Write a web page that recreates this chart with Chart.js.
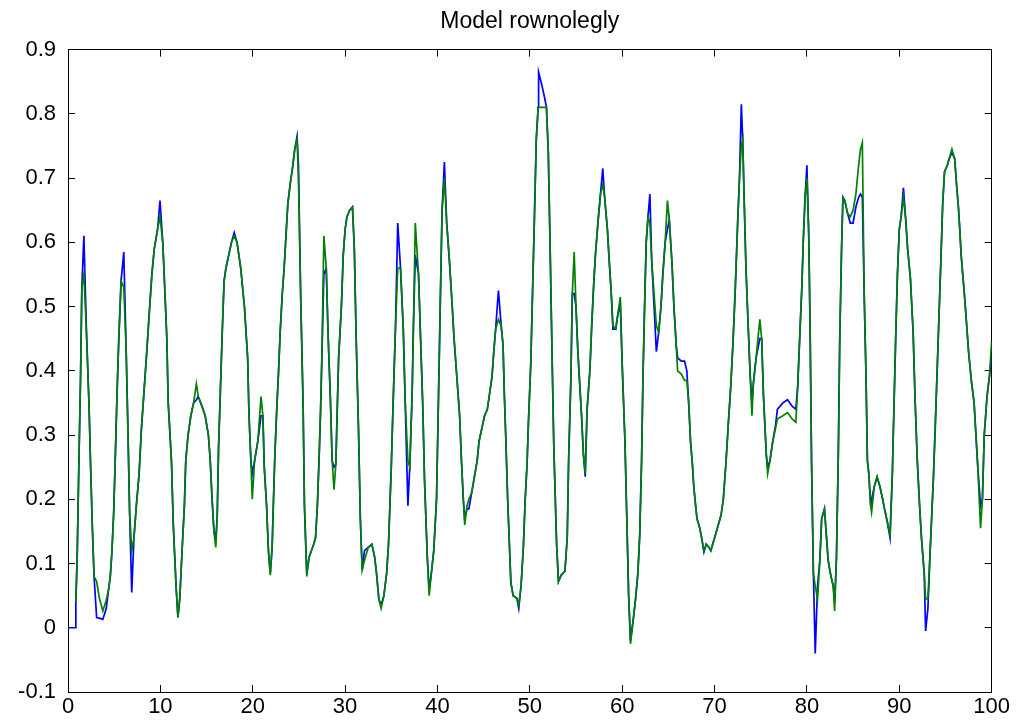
<!DOCTYPE html>
<html lang="en">
<head>
    <meta charset="UTF-8">
    <title>Model rownolegly</title>
    <script src="https://cdn.jsdelivr.net/npm/chart.js"></script>
    <style>
        body { margin: 0; background: #fff; }
        #wrap { width: 1019px; height: 728px; }
    </style>
</head>
<body>

<div id="wrap">
    <canvas id="modelChart" width="1019" height="728"></canvas>
</div>

<script>
    // x positions (shared by both lines)
    const xValues = [
        0, 0.8, 0.85, 1.0, 1.17, 1.36, 1.5, 1.72, 2.0, 2.27, 2.45, 2.64, 2.82, 3.1, 3.4, 3.77, 4.14, 4.4, 4.58, 4.76,
        4.95, 5.13, 5.3, 5.5, 5.75, 6.04, 6.3, 6.5, 6.67, 6.9, 7.14, 7.4, 7.7, 7.95, 8.24, 8.53, 8.8, 9.08, 9.34, 9.7, 9.96,
        10.26, 10.5, 10.7, 10.85, 11.2, 11.4, 11.7, 11.9, 12.1, 12.35, 12.6, 12.75, 13.0, 13.3, 13.6, 13.9, 14.1, 14.5, 14.85, 15.2,
        15.4, 15.6, 15.8, 16.0, 16.15, 16.3, 16.5, 16.7, 16.9, 17.1, 17.4, 17.7, 18.0, 18.3, 18.7, 19.1, 19.45, 19.6, 19.8, 19.95,
        20.2, 20.55, 20.9, 21.1, 21.25, 21.5, 21.7, 21.9, 22.1, 22.25, 22.4, 22.6, 22.8, 22.97, 23.2, 23.4, 23.6, 23.8, 24.05, 24.3,
        24.55, 24.8, 24.95, 25.2, 25.45, 25.6, 25.85, 26.1, 26.35, 26.6, 26.8, 27.0, 27.2, 27.35, 27.5, 27.7, 27.96, 28.15, 28.4, 28.6,
        28.8, 29.0, 29.15, 29.3, 29.6, 29.8,
        30.0, 30.2, 30.5, 30.8, 31.0, 31.2, 31.45, 31.65, 31.85, 32.1, 32.5, 32.9, 33.2, 33.4, 33.65, 33.9, 34.2, 34.5, 34.7, 35.0,
        35.2, 35.45, 35.7, 36.0, 36.3, 36.5, 36.8, 37.0, 37.25, 37.4, 37.6, 37.95, 38.15, 38.4, 38.6, 38.9, 39.1, 39.3, 39.6, 39.9,
        40.1, 40.3, 40.5, 40.75, 41.0, 41.3, 41.6, 41.8, 42.1, 42.4, 42.6, 42.8, 42.95, 43.2, 43.4, 43.7, 44.0, 44.3, 44.5, 44.8,
        45.1, 45.4, 45.6, 45.9, 46.1, 46.3, 46.6, 46.9, 47.1, 47.25, 47.4, 47.6, 47.8, 47.95, 48.2, 48.6, 48.8, 49.05, 49.3, 49.5,
        49.7, 49.85,
        50.1, 50.3, 50.5, 50.7, 50.9, 50.95, 51.3, 51.6, 51.8, 52.0, 52.2, 52.4, 52.6, 52.9, 53.1, 53.4, 53.8, 54.05, 54.2, 54.45,
        54.6, 54.8, 55.0, 55.2, 55.4, 55.6, 55.8, 56.0, 56.2, 56.5, 56.7, 56.9, 57.1, 57.4, 57.65, 57.9, 58.1, 58.4, 58.6, 58.8,
        59.0, 59.3, 59.55, 59.8,
        60.0, 60.3, 60.5, 60.7, 60.9, 61.2, 61.45, 61.7, 61.9, 62.1, 62.25, 62.4, 62.6, 62.8, 63.0, 63.2, 63.45, 63.7, 63.95, 64.2,
        64.4, 64.65, 64.9, 65.1, 65.4, 65.6, 65.85, 66.0, 66.4, 66.75, 67.0, 67.2, 67.4, 67.6, 67.75, 67.95, 68.1, 68.4, 68.6, 68.85,
        69.1, 69.4, 69.6, 69.9,
        70.2, 70.4, 70.7, 70.95, 71.25, 71.5, 71.75, 72.0, 72.25, 72.5, 72.7, 72.9, 73.05, 73.2, 73.4, 73.6, 73.85, 74.05, 74.2, 74.5,
        74.9, 75.1, 75.3, 75.6, 75.75, 76.0, 76.3, 76.6, 76.8, 77.4, 77.9, 78.4, 78.8, 79.0, 79.2, 79.45, 79.6, 79.8,
        80.0, 80.2, 80.35, 80.5, 80.7, 80.9, 81.15, 81.4, 81.6, 81.9, 82.1, 82.3, 82.6, 82.85, 83.0, 83.2, 83.4, 83.55, 83.75, 83.9,
        84.1, 84.4, 84.7, 85.0, 85.3, 85.6, 85.8, 86.0, 86.2, 86.4, 86.55, 86.7, 86.9, 87.0, 87.3, 87.6, 87.9, 88.2, 88.4, 88.7,
        89.0, 89.25, 89.4, 89.6, 89.8,
        90.0, 90.2, 90.45, 90.7, 90.9, 91.2, 91.5, 91.7, 91.95, 92.2, 92.4, 92.7, 92.85, 93.1, 93.3, 93.5, 93.7, 93.9, 94.1, 94.3,
        94.5, 94.7, 94.9, 95.2, 95.4, 95.7, 96.0, 96.2, 96.4, 96.55, 96.7, 96.9, 97.1, 97.3, 97.5, 97.8, 98.1, 98.3, 98.5, 98.8,
        99.0, 99.2, 99.5, 99.75, 100.0
    ];

    // blue line
    const blueValues = [
        0, 0, 0.04, 0.115, 0.25, 0.39, 0.53, 0.61, 0.46, 0.35, 0.25, 0.155, 0.08, 0.016, 0.015, 0.013, 0.03, 0.06, 0.08, 0.12,
        0.18, 0.27, 0.36, 0.45, 0.54, 0.585, 0.43, 0.3, 0.18, 0.055, 0.14, 0.19, 0.24, 0.31, 0.37, 0.43, 0.49, 0.55, 0.59, 0.62, 0.665,
        0.6, 0.52, 0.45, 0.35, 0.26, 0.16, 0.065, 0.016, 0.045, 0.12, 0.19, 0.26, 0.3, 0.33, 0.35, 0.355, 0.36, 0.345, 0.33, 0.3,
        0.26, 0.2, 0.15, 0.14, 0.17, 0.28, 0.37, 0.46, 0.54, 0.56, 0.58, 0.6, 0.615, 0.6, 0.56, 0.5, 0.42, 0.33, 0.26, 0.24,
        0.26, 0.29, 0.33, 0.33, 0.25, 0.19, 0.12, 0.085, 0.125, 0.2, 0.27, 0.34, 0.4, 0.46, 0.52, 0.56, 0.61, 0.66, 0.69, 0.715,
        0.745, 0.765, 0.72, 0.51, 0.35, 0.19, 0.085, 0.11, 0.12, 0.13, 0.14, 0.19, 0.27, 0.34, 0.43, 0.55, 0.56, 0.46, 0.36, 0.26,
        0.25, 0.255, 0.34, 0.42, 0.5, 0.58,
        0.62, 0.64, 0.65, 0.655, 0.59, 0.45, 0.31, 0.17, 0.09, 0.12, 0.125, 0.13, 0.11, 0.085, 0.045, 0.035, 0.05, 0.085, 0.13, 0.25,
        0.35, 0.465, 0.63, 0.56, 0.465, 0.355, 0.19, 0.25, 0.36, 0.47, 0.58, 0.55, 0.46, 0.35, 0.23, 0.11, 0.06, 0.08, 0.12, 0.2,
        0.35, 0.5, 0.65, 0.725, 0.63, 0.57, 0.5, 0.45, 0.39, 0.33, 0.26, 0.2, 0.17, 0.185, 0.185, 0.21, 0.235, 0.26, 0.29, 0.31,
        0.33, 0.34, 0.36, 0.39, 0.43, 0.465, 0.525, 0.47, 0.44, 0.36, 0.295, 0.2, 0.125, 0.07, 0.05, 0.046, 0.03, 0.065, 0.125, 0.2,
        0.255, 0.32,
        0.41, 0.525, 0.64, 0.76, 0.81, 0.865, 0.845, 0.825, 0.81, 0.74, 0.59, 0.43, 0.28, 0.13, 0.072, 0.082, 0.088, 0.14, 0.26, 0.39,
        0.52, 0.52, 0.5, 0.43, 0.38, 0.33, 0.27, 0.235, 0.34, 0.4, 0.47, 0.53, 0.58, 0.635, 0.675, 0.715, 0.67, 0.62, 0.57, 0.525,
        0.465, 0.465, 0.49, 0.5,
        0.41, 0.29, 0.17, 0.05, -0.02, 0.013, 0.045, 0.085, 0.145, 0.26, 0.39, 0.485, 0.6, 0.64, 0.675, 0.57, 0.5, 0.43, 0.46, 0.5,
        0.55, 0.6, 0.62, 0.635, 0.565, 0.5, 0.44, 0.42, 0.415, 0.415, 0.4, 0.35, 0.29, 0.255, 0.22, 0.19, 0.17, 0.155, 0.14, 0.118,
        0.13, 0.125, 0.12, 0.135,
        0.15, 0.16, 0.175, 0.2, 0.26, 0.32, 0.375, 0.445, 0.53, 0.63, 0.7, 0.815, 0.76, 0.67, 0.56, 0.485, 0.395, 0.35, 0.38, 0.42,
        0.45, 0.45, 0.36, 0.27, 0.25, 0.26, 0.29, 0.315, 0.34, 0.35, 0.355, 0.345, 0.34, 0.375, 0.445, 0.53, 0.6, 0.67,
        0.72, 0.61, 0.46, 0.26, 0.085, -0.04, 0.065, 0.105, 0.17, 0.185, 0.145, 0.105, 0.08, 0.065, 0.04, 0.11, 0.27, 0.445, 0.59, 0.67,
        0.665, 0.645, 0.63, 0.63, 0.655, 0.67, 0.675, 0.67, 0.52, 0.39, 0.26, 0.24, 0.19, 0.2, 0.22, 0.235, 0.22, 0.2, 0.185, 0.165,
        0.14, 0.24, 0.33, 0.445, 0.55,
        0.62, 0.64, 0.685, 0.635, 0.59, 0.545, 0.46, 0.36, 0.26, 0.19, 0.14, 0.085, -0.005, 0.03, 0.105, 0.17, 0.235, 0.315, 0.4, 0.485,
        0.57, 0.66, 0.71, 0.72, 0.73, 0.74, 0.73, 0.69, 0.655, 0.62, 0.58, 0.545, 0.51, 0.47, 0.43, 0.385, 0.35, 0.3, 0.25, 0.19,
        0.2, 0.3, 0.36, 0.39, 0.42
    ];

    // green line (starts a little after x = 0)
    const greenValues = [
        null, null, 0.04, 0.115, 0.25, 0.39, 0.53, 0.55, 0.46, 0.35, 0.25, 0.155, 0.08, 0.072, 0.046, 0.026, 0.043, 0.06, 0.08, 0.12,
        0.18, 0.27, 0.36, 0.45, 0.54, 0.53, 0.43, 0.3, 0.18, 0.12, 0.14, 0.19, 0.24, 0.31, 0.37, 0.43, 0.49, 0.55, 0.59, 0.62, 0.64,
        0.6, 0.52, 0.45, 0.35, 0.26, 0.16, 0.065, 0.016, 0.045, 0.12, 0.19, 0.26, 0.3, 0.33, 0.35, 0.38, 0.36, 0.345, 0.33, 0.3,
        0.26, 0.2, 0.15, 0.125, 0.17, 0.28, 0.37, 0.46, 0.54, 0.56, 0.58, 0.6, 0.61, 0.6, 0.56, 0.5, 0.42, 0.33, 0.26, 0.2,
        0.26, 0.29, 0.36, 0.33, 0.25, 0.19, 0.12, 0.082, 0.125, 0.2, 0.27, 0.34, 0.4, 0.46, 0.52, 0.56, 0.61, 0.66, 0.69, 0.715,
        0.745, 0.76, 0.7, 0.51, 0.35, 0.19, 0.08, 0.11, 0.12, 0.13, 0.14, 0.19, 0.27, 0.34, 0.43, 0.61, 0.56, 0.46, 0.36, 0.26,
        0.215, 0.255, 0.34, 0.42, 0.5, 0.58,
        0.62, 0.64, 0.65, 0.655, 0.59, 0.45, 0.31, 0.17, 0.09, 0.105, 0.125, 0.13, 0.11, 0.085, 0.045, 0.03, 0.05, 0.085, 0.13, 0.25,
        0.35, 0.465, 0.56, 0.56, 0.465, 0.355, 0.26, 0.25, 0.36, 0.47, 0.63, 0.55, 0.46, 0.35, 0.23, 0.11, 0.05, 0.08, 0.12, 0.2,
        0.35, 0.5, 0.65, 0.7, 0.63, 0.57, 0.5, 0.45, 0.39, 0.33, 0.26, 0.2, 0.16, 0.19, 0.2, 0.21, 0.235, 0.26, 0.29, 0.31,
        0.33, 0.34, 0.36, 0.39, 0.43, 0.465, 0.48, 0.47, 0.44, 0.36, 0.295, 0.2, 0.125, 0.07, 0.05, 0.046, 0.035, 0.065, 0.125, 0.2,
        0.255, 0.32,
        0.41, 0.525, 0.64, 0.76, 0.81, 0.81, 0.81, 0.81, 0.81, 0.74, 0.59, 0.43, 0.28, 0.13, 0.072, 0.082, 0.088, 0.14, 0.26, 0.39,
        0.52, 0.585, 0.5, 0.43, 0.38, 0.33, 0.27, 0.24, 0.34, 0.4, 0.47, 0.53, 0.58, 0.635, 0.675, 0.69, 0.67, 0.62, 0.57, 0.525,
        0.47, 0.465, 0.49, 0.515,
        0.41, 0.29, 0.17, 0.05, -0.025, 0.013, 0.045, 0.085, 0.145, 0.26, 0.39, 0.485, 0.6, 0.64, 0.63, 0.57, 0.52, 0.47, 0.46, 0.5,
        0.55, 0.6, 0.665, 0.635, 0.565, 0.5, 0.44, 0.4, 0.395, 0.385, 0.385, 0.35, 0.29, 0.255, 0.22, 0.19, 0.17, 0.155, 0.14, 0.12,
        0.13, 0.125, 0.12, 0.135,
        0.15, 0.16, 0.175, 0.2, 0.26, 0.32, 0.375, 0.445, 0.53, 0.63, 0.7, 0.75, 0.76, 0.67, 0.56, 0.485, 0.395, 0.33, 0.38, 0.42,
        0.48, 0.45, 0.36, 0.27, 0.24, 0.26, 0.29, 0.31, 0.325, 0.33, 0.335, 0.325, 0.32, 0.375, 0.445, 0.53, 0.6, 0.67,
        0.7, 0.61, 0.46, 0.26, 0.085, 0.065, 0.045, 0.105, 0.17, 0.185, 0.145, 0.105, 0.08, 0.065, 0.026, 0.11, 0.27, 0.445, 0.59, 0.67,
        0.665, 0.645, 0.64, 0.65, 0.675, 0.72, 0.745, 0.755, 0.52, 0.39, 0.26, 0.24, 0.19, 0.18, 0.22, 0.235, 0.22, 0.2, 0.185, 0.165,
        0.145, 0.24, 0.33, 0.445, 0.55,
        0.62, 0.64, 0.67, 0.635, 0.59, 0.545, 0.46, 0.36, 0.26, 0.19, 0.14, 0.085, 0.045, 0.045, 0.105, 0.17, 0.235, 0.315, 0.4, 0.485,
        0.57, 0.66, 0.71, 0.72, 0.73, 0.745, 0.73, 0.69, 0.655, 0.62, 0.58, 0.545, 0.51, 0.47, 0.43, 0.385, 0.35, 0.3, 0.25, 0.155,
        0.2, 0.3, 0.36, 0.39, 0.445
    ];

    const xTicks = [0, 10, 20, 30, 40, 50, 60, 70, 80, 90, 100];
    const yTicks = [-0.1, 0, 0.1, 0.2, 0.3, 0.4, 0.5, 0.6, 0.7, 0.8, 0.9];

    const labelFont = { family: "'Liberation Sans', Arial, sans-serif", size: 22 };

    // inward tick marks like MATLAB: negative tick length, no grid inside the plot
    const frameGrid = { display: true, drawOnChartArea: false, drawTicks: true, tickLength: -7, color: '#000', lineWidth: 1 };
    const frameBorder = { display: true, color: '#000', width: 1 };

    const ctx = document.getElementById('modelChart').getContext('2d');
    const modelChart = new Chart(ctx, {
        type: 'line',
        data: {
            datasets: [
                {
                    label: 'green',
                    data: xValues.map((x, i) => ({ x: x, y: greenValues[i] })),
                    borderColor: '#008000',
                    borderWidth: 1.7,
                    pointRadius: 0,
                    tension: 0,
                    spanGaps: false,
                    order: 0
                },
                {
                    label: 'blue',
                    data: xValues.map((x, i) => ({ x: x, y: blueValues[i] })),
                    borderColor: '#0000ff',
                    borderWidth: 1.7,
                    pointRadius: 0,
                    tension: 0,
                    order: 1
                }
            ]
        },
        options: {
            responsive: false,
            animation: false,
            layout: { padding: { left: 0, right: 20, top: 0, bottom: 0 } },
            scales: {
                x: {
                    type: 'linear',
                    position: 'bottom',
                    min: 0,
                    max: 100,
                    afterBuildTicks: s => { s.ticks = xTicks.map(v => ({ value: v })); },
                    afterFit: s => { s.height = 36; },
                    grid: frameGrid,
                    border: frameBorder,
                    ticks: {
                        color: '#000',
                        font: labelFont,
                        padding: 9,
                        maxRotation: 0,
                        callback: v => String(v)
                    }
                },
                xTop: {
                    type: 'linear',
                    position: 'top',
                    min: 0,
                    max: 100,
                    afterBuildTicks: s => { s.ticks = xTicks.map(v => ({ value: v })); },
                    afterFit: s => { s.height = 0; },
                    grid: frameGrid,
                    border: frameBorder,
                    ticks: { display: false }
                },
                y: {
                    position: 'left',
                    min: -0.1,
                    max: 0.9,
                    afterBuildTicks: s => { s.ticks = yTicks.map(v => ({ value: v })); },
                    afterFit: s => { s.width = 68; },
                    grid: frameGrid,
                    border: frameBorder,
                    ticks: {
                        color: '#000',
                        font: labelFont,
                        padding: 19,
                        callback: v => String(Number(v.toFixed(1)))
                    }
                },
                yRight: {
                    position: 'right',
                    min: -0.1,
                    max: 0.9,
                    afterBuildTicks: s => { s.ticks = yTicks.map(v => ({ value: v })); },
                    afterFit: s => { s.width = 0; },
                    grid: frameGrid,
                    border: frameBorder,
                    ticks: { display: false }
                }
            },
            plugins: {
                legend: { display: false },
                tooltip: { enabled: false },
                title: {
                    display: true,
                    fullSize: false,
                    text: 'Model rownolegly',
                    color: '#000',
                    font: { family: "'Liberation Sans', Arial, sans-serif", size: 23, weight: 'normal' },
                    padding: { top: 8, bottom: 14 }
                }
            }
        }
    });
</script>

</body>
</html>
